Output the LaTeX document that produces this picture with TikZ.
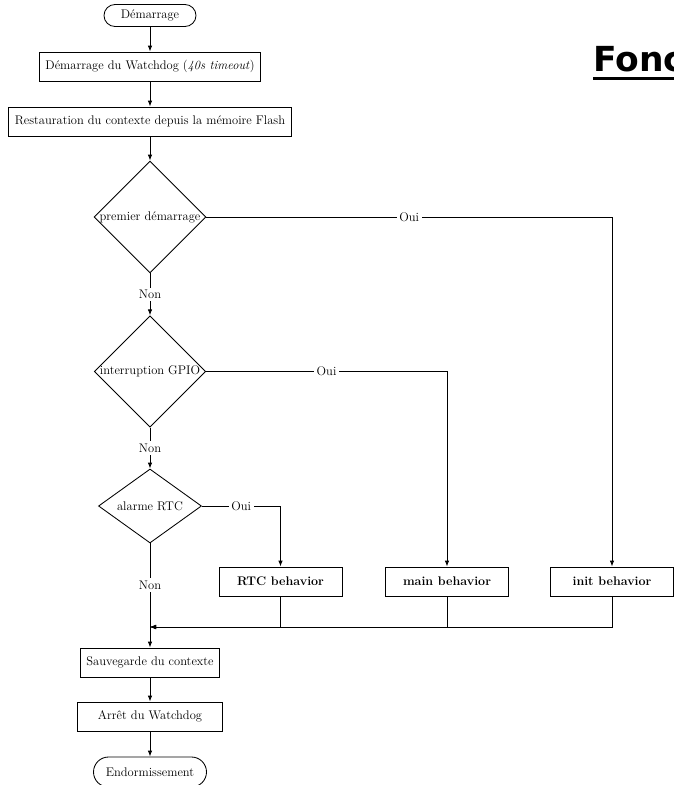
\documentclass[tikz,border=0pt]{standalone}
\usepackage{fontspec}
\newfontfamily\titlefont{DejaVu Sans}
\usetikzlibrary{shapes.geometric,arrows.meta,calc}

\begin{document}
\begin{tikzpicture}[x=1pt,y=-1pt,
  every node/.style={font=\fontsize{12.5}{15}\selectfont},
  line/.style={draw, line width=0.85pt},
  arrow/.style={line, -{Latex[length=6pt,width=4.5pt]}},
  terminal/.style={draw, line width=0.85pt, rounded corners=11pt, minimum height=22pt, inner xsep=8pt},
  process/.style={draw, line width=0.85pt, rectangle, minimum height=29pt, inner xsep=6pt},
  behavior/.style={process, minimum width=123pt, font=\fontsize{12.5}{15}\selectfont\bfseries},
  decision/.style={draw, line width=0.85pt, diamond, aspect=1, inner sep=0pt},
  lbl/.style={fill=white, inner sep=2.5pt}
]
\useasboundingbox (0,0) rectangle (673,785);

% heading
\node[anchor=base west, inner sep=0pt, font=\titlefont\bfseries\fontsize{34.5}{40}\selectfont] (title) at (593,71) {Fonc};
\draw[line width=3pt] ($(title.base west)+(0,7.5)$) -- ($(title.base east)+(20,7.5)$);

% main column
\node[terminal, minimum width=92pt] (start) at (150,15.5) {Démarrage};
\node[process] (wd) at (150,66.5) {Démarrage du Watchdog (\textit{40s timeout})};
\node[process] (restore) at (150,121.5) {Restauration du contexte depuis la mémoire Flash};
\node[decision] (d1) at (150,217) {premier démarrage};
\node[decision] (d2) at (150,371.5) {interruption GPIO};
\node[decision, aspect=1.4, minimum width=103pt, minimum height=74pt] (d3) at (150,506) {alarme RTC};

% behaviours
\node[behavior] (rtc) at (280.5,581.5) {RTC behavior};
\node[behavior] (main) at (447,581.5) {main behavior};
\node[behavior] (init) at (612,581.5) {init behavior};

\coordinate (merge) at (150,627);

\node[process] (save) at (150,662.5) {Sauvegarde du contexte};
\node[process, minimum width=145pt] (stop) at (150,716.5) {Arrêt du Watchdog};
\node[terminal, minimum width=113pt, minimum height=30pt, rounded corners=15pt] (sleep) at (150,772) {Endormissement};

% connectors
\draw[arrow] (start) -- (wd);
\draw[arrow] (wd) -- (restore);
\draw[arrow] (restore) -- (d1);
\draw[arrow] (d1) -- node[lbl] {Non} (d2);
\draw[arrow] (d2) -- node[lbl] {Non} (d3);
\draw[arrow] (d1) -| node[lbl, pos=0.25] {Oui} (init);
\draw[arrow] (d2) -| node[lbl, pos=0.25] {Oui} (main);
\draw[arrow] (d3) -| node[lbl, pos=0.25] {Oui} (rtc);
\draw[line] (d3) -- node[lbl] {Non} (merge);
\draw[arrow] (init) |- (merge);
\draw[arrow] (main) |- (merge);
\draw[arrow] (rtc) |- (merge);
\draw[arrow] (merge) -- (save);
\draw[arrow] (save) -- (stop);
\draw[arrow] (stop) -- (sleep);
\end{tikzpicture}
\end{document}
